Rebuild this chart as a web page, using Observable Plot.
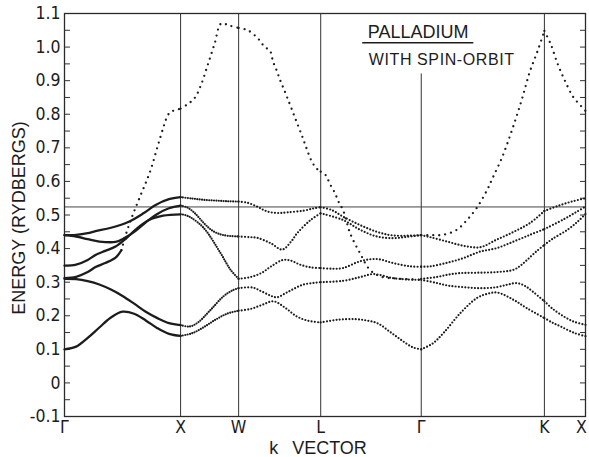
<!DOCTYPE html>
<html><head><meta charset="utf-8">
<script src="https://cdn.jsdelivr.net/npm/d3@7"></script>
<script src="https://cdn.jsdelivr.net/npm/@observablehq/plot@0.6"></script>
<style>
html,body{margin:0;padding:0;background:#fff}
g[aria-description="subtitle"] text{letter-spacing:0.6px}
</style></head><body><div id="chart"></div>
<script>
// Symmetry points along the k path (distance in units of 2π/a)
const symLabels = ["Γ","X","W","L","Γ","K","X"];
const symPos = [0, 1, 1.5, 2.207, 3.073, 4.134, 4.488];
// Energy axis
const yTickValues = [-0.1,0,0.1,0.2,0.3,0.4,0.5,0.6,0.7,0.8,0.9,1.0,1.1];
const yTickLabels = ["-0.1","0","0.1","0.2","0.3","0.4","0.5","0.6","0.7","0.8","0.9","1.0","1.1"];
const fermiEnergy = 0.524;
const gammaLineTop = 0.92;

// Bands: [k, energy (Ry)]
const band1 = [[0,0.10],[0.1,0.108],[0.2,0.134],[0.3,0.165],[0.4,0.195],[0.5,0.212],[0.6,0.206],[0.7,0.186],[0.8,0.163],[0.9,0.146],[1.0,0.14],
  [1.1,0.148],[1.2,0.166],[1.3,0.188],[1.4,0.206],[1.5,0.215],
  [1.6,0.22],[1.7,0.232],[1.8,0.243],[1.9,0.224],[2.0,0.198],[2.1,0.185],[2.207,0.18],
  [2.35,0.188],[2.5,0.19],[2.6,0.186],[2.7,0.177],[2.8,0.153],[2.9,0.128],[3.0,0.106],[3.073,0.10],
  [3.17,0.117],[3.266,0.149],[3.41,0.208],[3.554,0.253],[3.65,0.266],[3.73,0.269],[3.87,0.247],[3.98,0.223],[4.134,0.193],
  [4.2,0.18],[4.274,0.168],[4.39,0.149],[4.488,0.139]];
const band2 = [[0,0.31],[0.1,0.309],[0.2,0.303],[0.3,0.293],[0.4,0.278],[0.5,0.259],[0.6,0.236],[0.7,0.212],[0.8,0.193],[0.9,0.178],[1.0,0.172],
  [1.08,0.168],[1.15,0.18],[1.26,0.218],[1.37,0.258],[1.45,0.276],[1.5,0.282],
  [1.62,0.284],[1.7,0.272],[1.78,0.259],[1.83,0.255],[1.93,0.272],[2.05,0.292],[2.15,0.298],[2.207,0.30],
  [2.4,0.304],[2.546,0.315],[2.66,0.324],[2.83,0.312],[2.95,0.308],[3.073,0.307],
  [3.2,0.298],[3.3,0.29],[3.44,0.285],[3.58,0.282],[3.72,0.285],[3.82,0.293],[3.9,0.297],[3.97,0.288],[4.04,0.27],[4.134,0.243],
  [4.2,0.222],[4.3,0.198],[4.39,0.182],[4.488,0.173]];
const band3 = [[0,0.349],[0.1,0.352],[0.2,0.366],[0.267,0.381],[0.35,0.393],[0.44,0.406],[0.53,0.43],[0.61,0.456],[0.727,0.485],[0.85,0.498],[1.0,0.502],
  [1.037,0.50],[1.086,0.493],[1.2,0.461],[1.345,0.386],[1.43,0.337],[1.5,0.31],
  [1.6,0.315],[1.7,0.328],[1.78,0.347],[1.88,0.366],[1.95,0.364],[2.03,0.352],[2.12,0.344],[2.207,0.342],
  [2.3,0.34],[2.4,0.342],[2.546,0.362],[2.69,0.369],[2.83,0.357],[2.977,0.347],[3.073,0.346],
  [3.15,0.347],[3.3,0.358],[3.44,0.372],[3.58,0.391],[3.72,0.401],[3.87,0.421],[4.01,0.441],[4.134,0.458],
  [4.3,0.487],[4.4,0.507],[4.488,0.525]];
const band4 = [[0,0.44],[0.1,0.436],[0.2,0.428],[0.3,0.421],[0.44,0.42],[0.52,0.432],[0.61,0.452],[0.7,0.478],[0.8,0.503],[0.9,0.52],[1.0,0.528],
  [1.06,0.522],[1.124,0.505],[1.2,0.476],[1.28,0.452],[1.37,0.44],[1.5,0.436],
  [1.6,0.434],[1.66,0.432],[1.776,0.416],[1.876,0.397],[1.95,0.42],[2.005,0.446],[2.12,0.485],[2.207,0.505],
  [2.4,0.485],[2.546,0.456],[2.69,0.436],[2.833,0.431],[2.95,0.435],[3.073,0.44],
  [3.15,0.434],[3.295,0.421],[3.44,0.408],[3.58,0.404],[3.72,0.426],[3.87,0.45],[4.01,0.476],[4.134,0.512],
  [4.25,0.527],[4.37,0.54],[4.488,0.55]];
const band5 = [[0,0.44],[0.1,0.441],[0.2,0.446],[0.267,0.452],[0.4,0.462],[0.554,0.48],[0.68,0.505],[0.785,0.53],[0.9,0.547],[1.0,0.553],
  [1.1,0.549],[1.2,0.545],[1.3,0.543],[1.4,0.541],[1.5,0.54],
  [1.58,0.536],[1.66,0.525],[1.72,0.514],[1.776,0.508],[1.85,0.506],[1.92,0.508],[2.063,0.513],[2.15,0.52],[2.207,0.523],
  [2.3,0.515],[2.4,0.495],[2.546,0.47],[2.69,0.45],[2.833,0.439],[3.073,0.44],
  [3.073,0.31],[3.2,0.315],[3.3,0.322],[3.41,0.327],[3.55,0.328],[3.72,0.33],[3.87,0.337],[3.93,0.35],[3.984,0.366],[4.06,0.39],[4.134,0.411],
  [4.2,0.428],[4.333,0.456],[4.42,0.48],[4.488,0.503]];
// s-p like band (steep, sparse dots)
const spBand = [[0,0.312],[0.1,0.316],[0.2,0.33],[0.267,0.345],[0.35,0.357],[0.44,0.373],[0.49,0.395],[0.538,0.452],[0.58,0.493],[0.622,0.53],[0.663,0.565],[0.705,0.6],[0.747,0.639],[0.79,0.69],[0.829,0.735],[0.862,0.772],[0.89,0.797],[0.92,0.808],[0.96,0.812],[1.0,0.817],
  [1.07,0.832],[1.127,0.851],[1.18,0.891],[1.237,0.95],[1.293,1.01],[1.35,1.07],[1.42,1.064],[1.5,1.057],
  [1.579,1.05],[1.668,1.025],[1.725,1.0],[1.769,0.99],[1.798,0.955],[1.827,0.931],[1.858,0.901],[1.888,0.876],[1.917,0.851],[1.961,0.812],[2.005,0.772],[2.049,0.733],[2.08,0.703],[2.125,0.663],[2.169,0.639],[2.207,0.629],
  [2.249,0.619],[2.287,0.592],[2.33,0.565],[2.36,0.54],[2.402,0.512],[2.46,0.446],[2.546,0.386],[2.63,0.337],[2.72,0.317],[2.85,0.311],[2.95,0.309],[3.073,0.307],
  [3.073,0.44],[3.17,0.44],[3.265,0.441],[3.38,0.456],[3.467,0.485],[3.553,0.522],[3.64,0.574],[3.688,0.61],[3.771,0.673],[3.855,0.753],[3.938,0.842],[4.008,0.926],[4.077,0.99],[4.134,1.048],
  [4.187,1.01],[4.248,0.95],[4.309,0.901],[4.383,0.851],[4.456,0.822],[4.488,0.81]];

const titleText = "PALLADIUM";
const subtitleText = "WITH SPIN-ORBIT";
const yLabel = "ENERGY (RYDBERGS)";
const xLabel = "k\u2002 VECTOR";

// ---- split bands into segment pieces between symmetry points
const bands = [band1, band2, band3, band4, band5, spBand];
const SP = bands.length - 1;
const isSym = k => symPos.some(s => Math.abs(s - k) < 1e-9);
const segOf = k => { for (let i = 0; i < symPos.length - 1; i++) if (k < symPos[i + 1]) return i; return symPos.length - 2; };
const pieces = [];
bands.forEach((pts, b) => {
  let cur = [];
  const flush = () => { if (cur.length > 1) pieces.push({band: b, pts: cur}); };
  pts.forEach(([k, e]) => {
    if (cur.length) {
      const [pk, pe] = cur[cur.length - 1];
      if (Math.abs(k - pk) < 1e-9) { flush(); cur = []; }
      else if (isSym(pk) && cur.length > 1) { flush(); cur = [[pk, pe]]; }
    }
    cur.push([k, e]);
  });
  flush();
});
const rows = {solid: [], dense: [], dotted: [], sparse: []};
let id = 0;
function addPiece(pts, style) {
  id++;
  pts.forEach(([k, e]) => rows[style].push({k, e, id}));
}
pieces.forEach(p => {
  const mid = (p.pts[0][0] + p.pts[p.pts.length - 1][0]) / 2;
  const seg = segOf(mid);
  if (p.band === SP) {
    if (seg === 0) {
      const idx = p.pts.findIndex(([k]) => k >= 0.49);
      addPiece(p.pts.slice(0, idx + 1), "solid");
      addPiece(p.pts.slice(idx), "sparse");
    } else addPiece(p.pts, "sparse");
  } else if (seg === 0) addPiece(p.pts, "solid");
  else if (seg === 1) addPiece(p.pts, "dense");
  else addPiece(p.pts, "dotted");
});

const W = 589, H = 457, mL = 64, mR = 4, mT = 13, mB = 41;
const frameW = W - mL - mR;
const ink = "#1c1c1c";
const minorTicks = [];
yTickValues.forEach((v, i) => { minorTicks.push(v); if (i < yTickValues.length - 1) minorTicks.push((v + yTickValues[i + 1]) / 2); });
const innerTicks = minorTicks.slice(1, -1);
const tickFont = "'Liberation Sans Narrow','DejaVu Sans Condensed','Arial Narrow',sans-serif";
const textFont = "'Liberation Sans',Arial,sans-serif";

const lineOpts = {x: "k", y: "e", z: "id", curve: "catmull-rom", stroke: ink, strokeLinecap: "round"};
const lastIdx = symPos.length - 1;

const plot = Plot.plot({
  width: W, height: H,
  marginLeft: mL, marginRight: mR, marginTop: mT, marginBottom: mB,
  x: {domain: [symPos[0], symPos[lastIdx]], axis: null},
  y: {domain: [-0.1, 1.1], axis: null},
  style: {fontFamily: tickFont, fontSize: "17.5px", color: ink, background: "#fff"},
  marks: [
    Plot.ruleX(symPos.filter((d, i) => i > 0 && i < lastIdx && i !== 4), {stroke: "#333", strokeWidth: 1}),
    Plot.ruleX([symPos[4]], {y1: -0.1, y2: gammaLineTop, stroke: "#333", strokeWidth: 1}),
    Plot.ruleY([fermiEnergy], {stroke: "#444", strokeWidth: 1}),
    Plot.frame({stroke: "#2a2a2a", strokeWidth: 1.3}),
    // inward ticks, left and right
    Plot.ruleY(innerTicks, {insetRight: frameW - 6, stroke: "#333", strokeWidth: 1}),
    Plot.ruleY(innerTicks, {insetLeft: frameW - 5, stroke: "#333", strokeWidth: 1}),
    Plot.axisY(yTickValues, {anchor: "left", tickSize: 0, tickPadding: 4, label: null,
      tickFormat: d => yTickLabels[yTickValues.indexOf(d)], fontFamily: tickFont, fontSize: 17.5}),
    Plot.text(symPos.slice(0, lastIdx), {x: d => d, frameAnchor: "bottom", dy: 11, text: (d, i) => symLabels[i],
      textAnchor: "middle", lineAnchor: "middle", fontFamily: tickFont, fontSize: 17.5, fill: ink}),
    Plot.text([symPos[lastIdx]], {x: d => d, frameAnchor: "bottom", dy: 11, dx: -4, text: () => symLabels[lastIdx],
      textAnchor: "middle", lineAnchor: "middle", fontFamily: tickFont, fontSize: 17.5, fill: ink}),
    Plot.line(rows.solid, {...lineOpts, strokeWidth: 2.3}),
    Plot.line(rows.dense, {...lineOpts, strokeWidth: 2.2, strokeDasharray: "0,2.4"}),
    Plot.line(rows.dotted, {...lineOpts, strokeWidth: 2.2, strokeDasharray: "0,3.2"}),
    Plot.line(rows.sparse, {...lineOpts, strokeWidth: 2.3, strokeDasharray: "0,6"}),
    Plot.text([titleText], {x: 2.612, y: 1.045, text: d => d, textAnchor: "start", lineAnchor: "middle", fontFamily: textFont, fontSize: 18, fill: ink}),
    Plot.ruleY([1.013], {x1: 2.569, x2: 3.526, stroke: ink, strokeWidth: 1.4}),
    Plot.text([subtitleText], {x: 2.621, y: 0.963, text: d => d, textAnchor: "start", lineAnchor: "middle", fontFamily: textFont, fontSize: 16, fill: ink, ariaDescription: "subtitle"}),
    Plot.text([yLabel], {frameAnchor: "left", dx: -45.5, dy: 3, rotate: -90, text: d => d, textAnchor: "middle", lineAnchor: "middle", fontFamily: textFont, fontSize: 18, fill: ink}),
    Plot.text([xLabel], {frameAnchor: "bottom", dx: -7, dy: 32, text: d => d, textAnchor: "middle", lineAnchor: "middle", fontFamily: textFont, fontSize: 18, fill: ink})
  ]
});
document.getElementById("chart").appendChild(plot);
</script>
</body></html>
